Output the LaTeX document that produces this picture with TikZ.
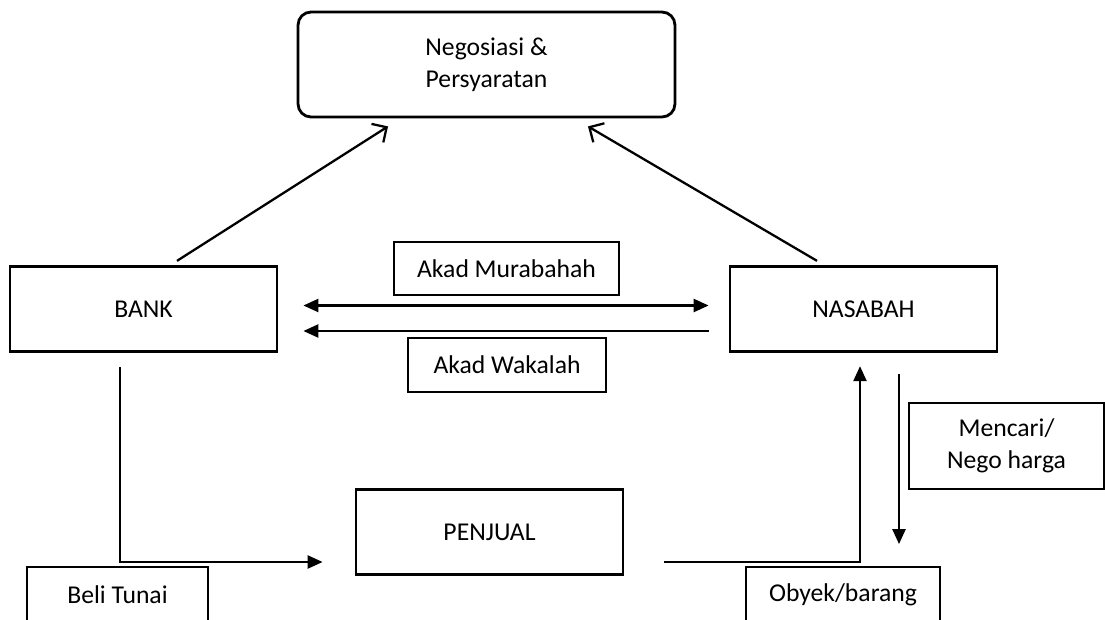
\documentclass[tikz,border=0pt]{standalone}
\usepackage{fontspec}
\setmainfont{Carlito}
\usetikzlibrary{arrows.meta, positioning}

\begin{document}
\begin{tikzpicture}[x=0.02cm, y=-0.02cm, font=\fontsize{14.6}{18.2}\selectfont,
    >={Triangle[length=0.3cm, width=0.26cm]},
    mainbox/.style={draw, line width=1.6pt, minimum width=5.34cm, minimum height=1.71cm, inner sep=0pt},
    lblbox/.style={draw, line width=0.7pt, inner sep=0pt, align=center},
    flow/.style={line width=1.3pt},
    toneg/.style={line width=1.3pt, -{Straight Barb[length=0.22cm, width=0.44cm]}}]
            \useasboundingbox (0,0) rectangle (1105,619);

            % Main parties
            \node[mainbox, rounded corners=0.26cm, minimum width=7.54cm, minimum height=2.1cm, align=center] (neg) at (486.5,64.5) {Negosiasi \&\\Persyaratan};
            \node[mainbox] (bank) at (143.5,309) {BANK};
            \node[mainbox] (nasabah) at (863.5,309) {NASABAH};
            \node[mainbox] (penjual) at (489.5,532) {PENJUAL};

            % Labels
            \node[lblbox, minimum width=4.5cm, minimum height=1.06cm] (murabahah) at (506.5,268.5) {Akad Murabahah};
            \node[lblbox, minimum width=3.96cm, minimum height=1.08cm] (wakalah) at (507,365) {Akad Wakalah};
            \node[lblbox, minimum width=3.9cm, minimum height=1.72cm] (cari) at (1006.5,446) {Mencari/\\Nego harga};
            \node[lblbox, minimum width=3.88cm, minimum height=1.12cm] (obyek) at (843,595) {Obyek/barang};
            \node[lblbox, minimum width=3.62cm, minimum height=1.12cm] (beli) at (117.5,595) {Beli Tunai};

            % Arrows to negotiation
            \draw[toneg] ([xshift=0.67cm, yshift=0.08cm]bank.north) -- ([xshift=-1.97cm, yshift=-0.16cm]neg.south);
            \draw[toneg] ([xshift=-0.93cm, yshift=0.08cm]nasabah.north) -- ([xshift=2.03cm, yshift=-0.16cm]neg.south);

            % Contracts
            \draw[flow, <->] ([xshift=0.5cm, yshift=0.07cm]bank.east) -- ([xshift=-0.4cm, yshift=0.07cm]nasabah.west);
            \draw[flow, <-] ([xshift=0.5cm, yshift=-0.44cm]bank.east) -- ([xshift=-0.4cm, yshift=-0.44cm]nasabah.west);

            % Purchase and delivery
            \draw[flow, ->] ([xshift=-0.47cm, yshift=-0.28cm]bank.south) |- ([xshift=-0.64cm, yshift=-0.6cm]penjual.west);
            \draw[flow, ->] ([xshift=0.8cm, yshift=-0.6cm]penjual.east) -| ([xshift=-0.07cm, yshift=-0.26cm]nasabah.south);
            \draw[flow, ->] ([xshift=0.71cm, yshift=-0.42cm]nasabah.south) -- ([xshift=0.71cm, yshift=-3.82cm]nasabah.south);
        \end{tikzpicture}
\end{document}
